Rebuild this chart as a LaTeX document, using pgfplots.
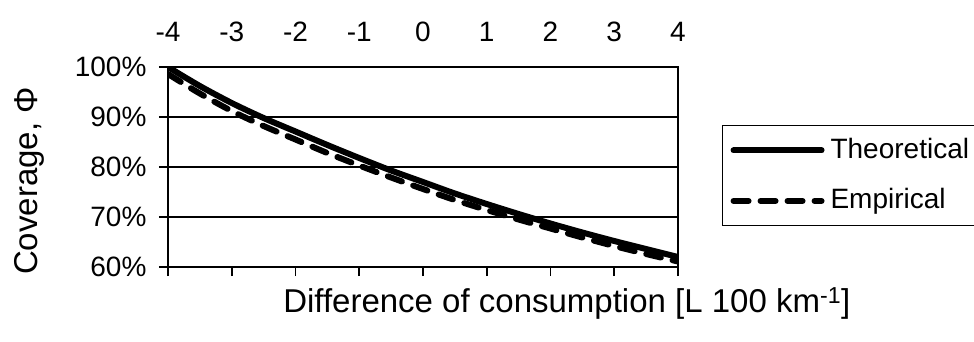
\documentclass[border=0pt]{standalone}
\usepackage{fontspec}
\setmainfont{Liberation Sans}
\usepackage{pgfplots}
\pgfplotsset{compat=1.18}

\begin{document}
\fontsize{28pt}{33pt}\selectfont
\begin{tikzpicture}
\path[use as bounding box] (-168pt,-74pt) rectangle (806pt,267pt);
\begin{axis}[
  at={(0pt,0pt)}, anchor=south west,
  scale only axis, width=510pt, height=200pt,
  xmin=-4, xmax=4, ymin=60, ymax=100,
  xtick={-4,-3,-2,-1,0,1,2,3,4},
  xticklabels={-4,-3,-2,-1,0,1,2,3,4},
  ytick={60,70,80,90,100},
  yticklabels={60\%,70\%,80\%,90\%,100\%},
  xtick pos=lower, xticklabel pos=upper,
  ytick pos=left,
  tick align=outside, major tick length=9pt,
  ymajorgrids, grid style={black, line width=1.6pt},
  axis line style={black, line width=1.6pt},
  tick style={black, line width=1.6pt},
  tick label style={font=\fontsize{28pt}{33pt}\selectfont},
  xticklabel style={yshift=7pt},
  yticklabel style={xshift=-3pt},
  label style={font=\fontsize{33pt}{38pt}\selectfont},
  xlabel={Difference of consumption [L 100 km\textsuperscript{-1}]},
  xlabel style={at={(rel axis cs:0.782,-0.18)}, anchor=center},
  ylabel={Coverage, Φ},
  ylabel style={at={(rel axis cs:-0.272,0.43)}, anchor=center},
  legend style={at={(rel axis cs:1.086,0.71)}, anchor=north west,
    draw=black, line width=1.4pt,
    font=\fontsize{28pt}{33pt}\selectfont,
    row sep=22pt, inner xsep=8pt, inner ysep=10.5pt,
    /tikz/every odd column/.append style={column sep=4pt}},
  legend cell align=left,
  legend image code/.code={\draw[#1] (0pt,0pt) -- (88pt,0pt);},
]
% theoretical coverage curve
\addplot[black, line width=6pt, line cap=round, smooth] coordinates {
  (-4,100.0) (-3.5,96.2) (-3,92.8) (-2.5,89.8) (-2,87.1) (-1.5,84.4)
  (-1,81.8) (-0.5,79.3) (0,77.0) (0.5,74.7) (1,72.6) (1.5,70.6)
  (2,68.7) (2.5,66.9) (3,65.2) (3.5,63.6) (4,62.0)
};
\addlegendentry{Theoretical}
% empirical coverage curve
\addplot[black, line width=6pt, line cap=round, dash pattern=on 15pt off 12pt, smooth] coordinates {
  (-4,98.6) (-3.5,94.7) (-3,91.2) (-2.5,88.2) (-2,85.5) (-1.5,82.8)
  (-1,80.3) (-0.5,77.9) (0,75.6) (0.5,73.4) (1,71.4) (1.5,69.5)
  (2,67.7) (2.5,65.9) (3,64.2) (3.5,62.6) (4,61.1)
};
\addlegendentry{Empirical}
\end{axis}
\end{tikzpicture}
\end{document}
